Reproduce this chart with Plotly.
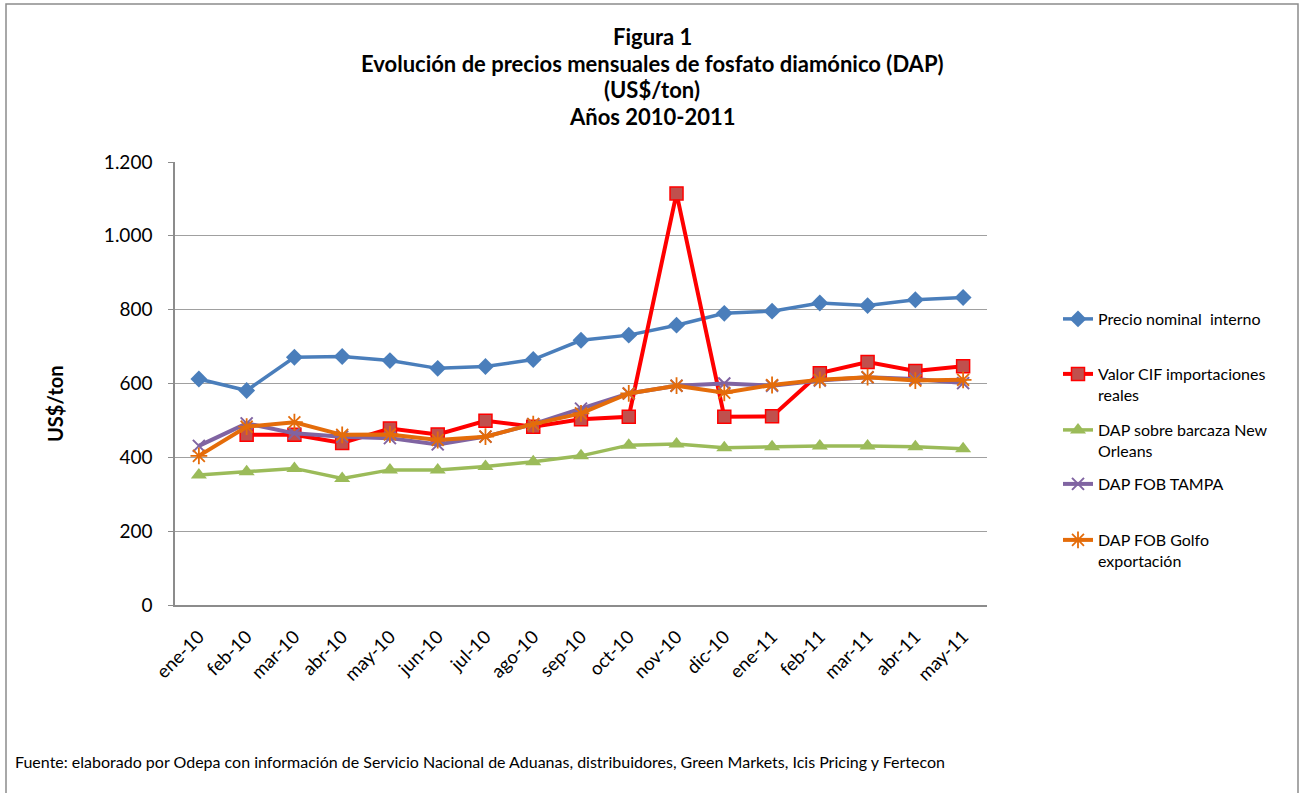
import plotly.graph_objects as go

months = ["ene-10", "feb-10", "mar-10", "abr-10", "may-10", "jun-10", "jul-10", "ago-10",
          "sep-10", "oct-10", "nov-10", "dic-10", "ene-11", "feb-11", "mar-11", "abr-11", "may-11"]

precio_interno = [612, 581, 671, 673, 662, 641, 646, 665, 717, 731, 758, 790, 796, 818, 811, 827, 833]
valor_cif = [None, 461, 461, 439, 478, 462, 499, 483, 503, 510, 1115, 510, 511, 628, 658, 634, 647]
barcaza = [352, 361, 370, 343, 366, 366, 375, 388, 404, 433, 436, 426, 429, 431, 431, 429, 423]
fob_tampa = [431, 492, 465, 456, 452, 435, 456, 490, 532, 573, 594, 600, 594, 608, 617, 612, 601]
fob_golfo = [404, 483, 495, 461, 462, 447, 456, 490, 519, 573, 594, 575, 596, 610, 617, 608, 610]

names = ["Precio nominal  interno", "Valor CIF importaciones<br>reales",
         "DAP sobre barcaza New<br>Orleans", "DAP FOB TAMPA", "DAP FOB Golfo<br>exportación"]

FONT = "Lato"
W, H = 1300, 793
# plot area in screen pixels
L, R, T, B = 175, 987, 162, 605
PW, PH = R - L, B - T


def px(x):
    return (x - L) / PW


def py(y):
    return (B - y) / PH


fig = go.Figure()

x_idx = list(range(len(months)))

fig.add_trace(go.Scatter(x=x_idx, y=precio_interno, name=names[0], mode="lines+markers",
                         line=dict(color="#4A7EBB", width=3.5),
                         marker=dict(symbol="diamond", size=13, color="#4A7EBB"),
                         legend="legend"))
fig.add_trace(go.Scatter(x=x_idx, y=valor_cif, name=names[1], mode="lines+markers",
                         line=dict(color="#FF0000", width=4),
                         marker=dict(symbol="square", size=13, color="#C0504D",
                                     line=dict(color="#FF0000", width=1.5)),
                         legend="legend2"))
fig.add_trace(go.Scatter(x=x_idx, y=barcaza, name=names[2], mode="lines+markers",
                         line=dict(color="#9BBB59", width=3.5),
                         marker=dict(symbol="triangle-up", size=14, color="#9BBB59"),
                         legend="legend3"))
fig.add_trace(go.Scatter(x=x_idx, y=fob_tampa, name=names[3], mode="lines+markers",
                         line=dict(color="#8064A2", width=4),
                         marker=dict(symbol="x-thin-open", size=12,
                                     line=dict(color="#8064A2", width=2)),
                         legend="legend4"))
fig.add_trace(go.Scatter(x=x_idx, y=fob_golfo, name=names[4], mode="lines+markers",
                         line=dict(color="#E46C0A", width=4),
                         marker=dict(symbol="asterisk-open", size=14,
                                     line=dict(color="#E46C0A", width=1.8)),
                         legend="legend5"))

leg_x = px(1058)
leg_font = dict(family=FONT, size=16, color="#000000")
legend_centers = [319, 374, 430, 484, 540]
legends = {}
for i, c in enumerate(legend_centers):
    key = "legend" if i == 0 else f"legend{i + 1}"
    legends[key] = dict(x=leg_x, xanchor="left", y=py(c - 17), yanchor="top",
                        font=leg_font, bgcolor="rgba(0,0,0,0)", borderwidth=0,
                        valign="top", tracegroupgap=0)

title_lines = ["Figura 1", "Evolución de precios mensuales de fosfato diamónico (DAP)",
               "(US$/ton)", "Años 2010-2011"]
title_y = [36, 63, 90, 117]
annotations = []
for t, yy in zip(title_lines, title_y):
    annotations.append(dict(text=f"<b>{t}</b>", x=px(652), y=py(yy), xref="paper", yref="paper",
                             xanchor="center", yanchor="middle", showarrow=False,
                             font=dict(family=FONT, size=22, color="#000000")))
annotations.append(dict(text="<b>US$/ton</b>", x=px(55), y=py(403), xref="paper", yref="paper",
                        xanchor="center", yanchor="middle", showarrow=False, textangle=-90,
                        font=dict(family=FONT, size=20, color="#000000")))
annotations.append(dict(text="Fuente: elaborado por Odepa con información de Servicio Nacional de Aduanas, "
                             "distribuidores, Green Markets, Icis Pricing y Fertecon",
                        x=px(13), y=py(761), xref="paper", yref="paper",
                        xanchor="left", yanchor="middle", showarrow=False,
                        font=dict(family=FONT, size=16, color="#000000")))

shapes = [dict(type="rect", xref="paper", yref="paper", x0=px(6), x1=px(1298), y0=py(820), y1=py(4),
               line=dict(color="#8C8C8C", width=1.5), fillcolor="rgba(0,0,0,0)", layer="below")]

fig.update_layout(
    width=W, height=H,
    margin=dict(l=L, r=W - R, t=T, b=H - B, autoexpand=False),
    paper_bgcolor="white", plot_bgcolor="white",
    separators=",.",
    font=dict(family=FONT, color="#000000"),
    showlegend=True,
    annotations=annotations,
    shapes=shapes,
    **legends,
)

fig.update_xaxes(range=[-0.5, len(months) - 0.5], tickmode="array", tickvals=x_idx, ticktext=months,
                 tickangle=-45, tickfont=dict(family=FONT, size=18.5, color="#000000"),
                 showgrid=False, zeroline=False, showline=True, linecolor="#8C8C8C", linewidth=1.5,
                 ticks="", ticklabelstandoff=12)
fig.update_yaxes(range=[0, 1200], tickmode="array", tickvals=[0, 200, 400, 600, 800, 1000, 1200],
                 tickformat=",d", tickfont=dict(family=FONT, size=19, color="#000000"),
                 showgrid=True, gridcolor="#A0A0A0", gridwidth=1, zeroline=False,
                 showline=True, linecolor="#8C8C8C", linewidth=1.5,
                 ticks="outside", ticklen=5, tickcolor="#8C8C8C", ticklabelstandoff=12)

fig.write_html("out.html", config={"displayModeBar": False},
               post_script="document.body.style.margin='0';document.body.style.overflow='hidden';")
